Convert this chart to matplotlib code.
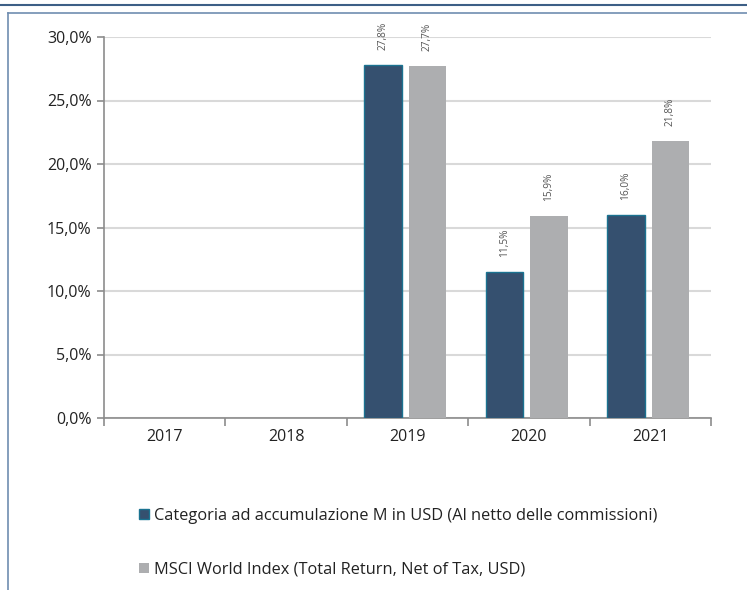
import matplotlib
matplotlib.use("Agg")
import matplotlib.pyplot as plt
from matplotlib.lines import Line2D
from matplotlib.ticker import FuncFormatter
import numpy as np

years = ["2017", "2018", "2019", "2020", "2021"]
fund = [None, None, 27.8, 11.5, 16.0]
index = [None, None, 27.7, 15.9, 21.8]
fund_label = "Categoria ad accumulazione M in USD (Al netto delle commissioni)"
index_label = "MSCI World Index (Total Return, Net of Tax, USD)"

DARK = "#35506f"
EDGE = "#1b7391"
GREY = "#adaeb0"
TEXT = "#222222"

plt.rcParams["font.family"] = ["Open Sans", "DejaVu Sans"]

fig = plt.figure(figsize=(7.47, 5.90), dpi=100)
ax = fig.add_axes([104 / 747, 1 - 418 / 590, 607 / 747, 381 / 590])

x = np.arange(len(years))
w = 0.31
for i, (f, m) in enumerate(zip(fund, index)):
    if f is not None:
        ax.bar(x[i] - 0.20, f, w, color=DARK, edgecolor=EDGE, linewidth=1.0, zorder=3)
        ax.annotate(f"{f:.1f}%".replace(".", ","), (x[i] - 0.20, f), xytext=(0, 11),
                    textcoords="offset points", rotation=90, ha="center", va="bottom",
                    fontsize=7.3, color="#555555")
    if m is not None:
        ax.bar(x[i] + 0.165, m, w, color=GREY, zorder=3)
        ax.annotate(f"{m:.1f}%".replace(".", ","), (x[i] + 0.165, m), xytext=(0, 11),
                    textcoords="offset points", rotation=90, ha="center", va="bottom",
                    fontsize=7.3, color="#555555")

ax.set_xlim(-0.5, len(years) - 0.5)
ax.set_ylim(0, 30)
ax.set_yticks(np.arange(0, 31, 5))
ax.yaxis.set_major_formatter(FuncFormatter(lambda v, p: f"{v:.1f}%".replace(".", ",")))
ax.set_xticks(x)
ax.set_xticklabels(years)
ax.set_xticks(np.arange(-0.5, len(years)), minor=True)
ax.tick_params(axis="x", which="major", length=0, pad=8, labelsize=11.5, colors=TEXT)
ax.tick_params(axis="x", which="minor", length=6, color="#8c8c8c", width=1.2)
ax.tick_params(axis="y", length=5, color="#8c8c8c", width=1.2, labelsize=11.5, pad=4)
ax.tick_params(axis="y", colors="#8c8c8c", labelcolor=TEXT)
ax.grid(axis="y", color="#d9d9d9", linewidth=1.5, zorder=0)
for s in ["top", "right"]:
    ax.spines[s].set_visible(False)
for s in ["left", "bottom"]:
    ax.spines[s].set_color("#8c8c8c")
    ax.spines[s].set_linewidth(1.2)

handles = [plt.Rectangle((0, 0), 1, 1, facecolor=DARK, edgecolor=EDGE),
           plt.Rectangle((0, 0), 1, 1, facecolor=GREY)]
fig.legend(handles, [fund_label, index_label], loc="upper left",
           bbox_to_anchor=(124 / 747, 1 - 493 / 590), frameon=False, fontsize=11.8,
           handlelength=0.6, handleheight=0.6, handletextpad=0.3, labelspacing=2.33,
           labelcolor=TEXT)

# frame decoration
fig.add_artist(Line2D([0, 1], [1 - 5 / 590, 1 - 5 / 590], color="#3d5f86", linewidth=1.5,
                      transform=fig.transFigure))
fig.add_artist(Line2D([8 / 747, 1], [1 - 13 / 590, 1 - 13 / 590], color="#6f8db0", linewidth=1.2,
                      transform=fig.transFigure))
fig.add_artist(Line2D([8 / 747, 8 / 747], [0, 1 - 13 / 590], color="#6f8db0", linewidth=1.2,
                      transform=fig.transFigure))

fig.savefig("out.png", dpi=100)
